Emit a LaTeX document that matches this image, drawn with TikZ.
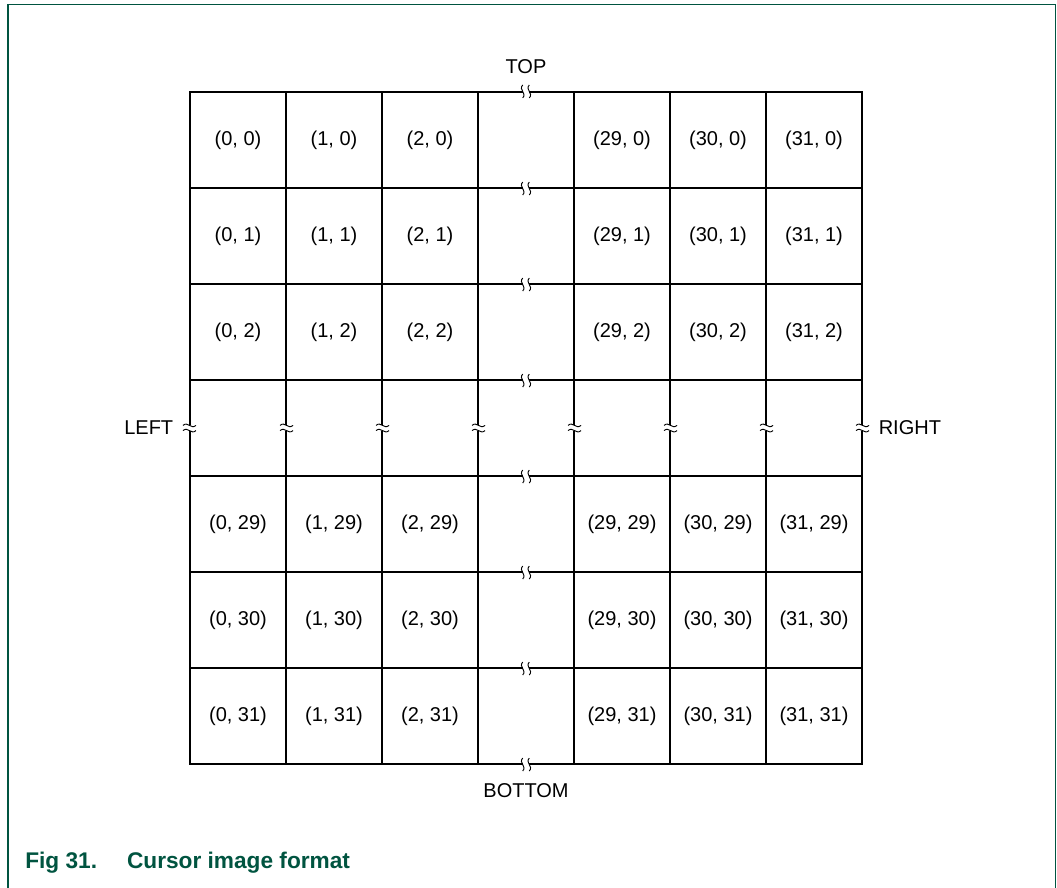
\documentclass[tikz,border=0pt]{standalone}
\usepackage{fontspec}
\setmainfont{Liberation Sans}
\usetikzlibrary{positioning}
\definecolor{figgreen}{RGB}{0,84,64}
\tikzset{
cell/.style={draw,minimum size=72pt,inner sep=0pt,line width=0.8pt},
txt/.style={inner sep=0pt,font=\fontsize{15}{18}\selectfont},
side/.style={inner sep=0pt,font=\fontsize{15}{18}\selectfont},
brk/.style={draw=black,line width=0.7pt},
caption/.style={inner sep=0pt,anchor=base west,text=figgreen,font=\fontsize{17}{20}\selectfont\bfseries}
}

\begin{document}
\begin{tikzpicture}[x=0.75pt,y=-0.75pt]
\useasboundingbox (0,0) rectangle (1057,888);

% frame, open at the bottom
\draw[figgreen,line width=1pt] (8,888) -- (8,4.3) -- (1055.5,4.3) -- (1055.5,888);

% the grid of cells
\foreach \i in {1,...,7}
  \foreach \j in {1,...,7}
    \node[cell] (c\i\j) at ({238+96*(\i-1)},{140+96*(\j-1)}) {};

% the cell labels
\foreach \i/\xl in {1/0,2/1,3/2,5/29,6/30,7/31}
  \foreach \j/\yl in {1/0,2/1,3/2,5/29,6/30,7/31}
    \node[txt] (t\i\j) at (c\i\j) {(\xl, \yl)};

% breaks on the horizontal lines
\foreach \p in {c41.north,c41.south,c42.south,c43.south,c44.south,c45.south,c46.south,c47.south}{
  \fill[white] (\p) ++(-3.3,-1.5) rectangle ++(6.6,3);
  \draw[brk] (\p) ++(-3.3,-6.5) .. controls +(-4.5,5) and +(4.5,-5) .. ++(0,13);
  \draw[brk] (\p) ++(3.3,-6.5) .. controls +(-4.5,5) and +(4.5,-5) .. ++(0,13);
}

% breaks on the vertical lines
\foreach \p in {c14.west,c14.east,c24.east,c34.east,c44.east,c54.east,c64.east,c74.east}{
  \fill[white] (\p) ++(-1.5,-2.6) rectangle ++(3,5.2);
  \draw[brk] (\p) ++(-6.5,-2.6) .. controls +(5,-4.5) and +(-5,4.5) .. ++(13,0);
  \draw[brk] (\p) ++(-6.5,2.6) .. controls +(5,-4.5) and +(-5,4.5) .. ++(13,0);
}

% side labels
\node[side,above=13pt of c41.north] (top) {TOP};
\node[side,below=14pt of c47.south] (bottom) {BOTTOM};
\node[side,left=12pt of c14.west] (left) {LEFT};
\node[side,right=12pt of c74.east] (right) {RIGHT};

\node[caption] (cap) at (25,868) {Fig 31.\hspace{22.5pt}Cursor image format};
\end{tikzpicture}
\end{document}
